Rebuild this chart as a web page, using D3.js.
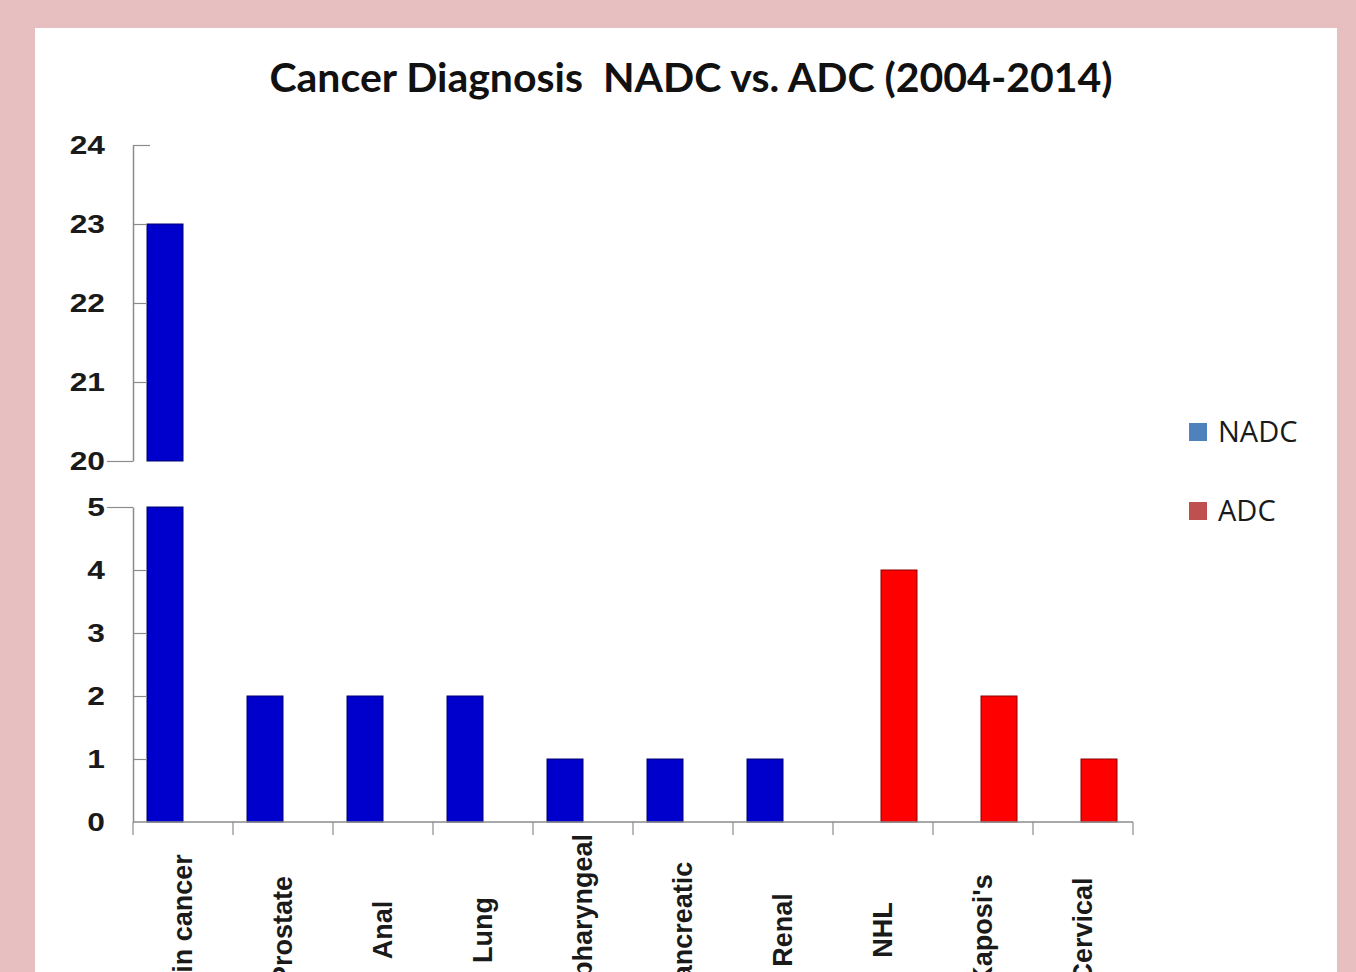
<!DOCTYPE html>
<html>
<head>
<meta charset="utf-8">
<script src="https://cdn.jsdelivr.net/npm/d3@7"></script>
<style>
  html, body { margin: 0; padding: 0; background: #e7bfc0; }
  svg { display: block; }
</style>
</head>
<body>
<svg id="chart" width="1356" height="972"></svg>
<script>
// Cancer diagnoses 2004-2014, non-AIDS-defining (NADC) vs AIDS-defining (ADC)
const categories = ["Skin cancer", "Prostate", "Anal", "Lung", "Oropharyngeal",
                    "Pancreatic", "Renal", "NHL", "Kaposi's", "Cervical"];
const nadcValues = [23, 2, 2, 2, 1, 1, 1, 0, 0, 0];
const adcValues  = [0, 0, 0, 0, 0, 0, 0, 4, 2, 1];
const seriesNames = ["NADC", "ADC"];
const upperTicks = [20, 21, 22, 23, 24];
const lowerTicks = [0, 1, 2, 3, 4, 5];

const barColors = { NADC: "#0000cc", ADC: "#ff0000" };
const barStroke = { NADC: "#00006e", ADC: "#8a0000" };
const legendColors = { NADC: "#4f81bd", ADC: "#c0504d" };

const svg = d3.select("#chart");

// white chart panel
svg.append("rect").attr("x", 35).attr("y", 28).attr("width", 1302).attr("height", 960)
  .attr("fill", "#ffffff");

svg.append("text")
  .attr("x", 691).attr("y", 92)
  .attr("text-anchor", "middle")
  .attr("font-family", "Lato, 'Open Sans', sans-serif")
  .attr("font-weight", "bold")
  .attr("font-size", 41)
  .attr("fill", "#111")
  .text("Cancer Diagnosis\u00a0\u00a0NADC vs. ADC (2004-2014)");

const left = 133, right = 1133;
const x0 = d3.scaleBand().domain(categories).range([left, right])
  .paddingInner(0.28).paddingOuter(0.14);
const x1 = d3.scaleBand().domain(seriesNames).range([-2, x0.bandwidth() - 2]);

// broken value axis: lower segment 0-5, upper segment 20-24
const yLow = d3.scaleLinear().domain([0, 5]).range([822, 507]);
const yHigh = d3.scaleLinear().domain([20, 24]).range([461, 145]);

const rows = categories.map((c, i) => ({ cat: c, NADC: nadcValues[i], ADC: adcValues[i] }));
const bars = [];
rows.forEach(r => seriesNames.forEach(s => { if (r[s] > 0) bars.push({ cat: r.cat, s, v: r[s] }); }));

const axisColor = "#8c8c8c";
const tickFont = "'Liberation Sans', Arial, sans-serif";
const tickStretch = 1.22;   // wide tick numerals
const tickPad = 28;

// lower bar segments
svg.append("g").selectAll("rect").data(bars).join("rect")
  .attr("x", d => x0(d.cat) + x1(d.s) + (d.s === "NADC" ? 2 : 0))
  .attr("width", x1.bandwidth())
  .attr("y", d => yLow(Math.min(d.v, 5)))
  .attr("height", d => yLow(0) - yLow(Math.min(d.v, 5)))
  .attr("fill", d => barColors[d.s])
  .attr("stroke", d => barStroke[d.s]).attr("stroke-width", 1);

// upper bar segments for values beyond the break
svg.append("g").selectAll("rect").data(bars.filter(d => d.v > 20)).join("rect")
  .attr("x", d => x0(d.cat) + x1(d.s) + (d.s === "NADC" ? 2 : 0))
  .attr("width", x1.bandwidth())
  .attr("y", d => yHigh(d.v))
  .attr("height", d => yHigh(20) - yHigh(d.v))
  .attr("fill", d => barColors[d.s])
  .attr("stroke", d => barStroke[d.s]).attr("stroke-width", 1);

function styleAxis(g, breakValue) {
  g.select(".domain").attr("stroke", axisColor).attr("stroke-width", 1.5);
  g.selectAll(".tick line").attr("stroke", axisColor).attr("stroke-width", 1.2);
  g.selectAll(".tick text")
    .attr("x", -tickPad / tickStretch)
    .attr("transform", `scale(${tickStretch},1)`)
    .attr("font-family", tickFont).attr("font-weight", "bold")
    .attr("font-size", 26).attr("fill", "#1a1a1a");
  g.selectAll(".tick").filter(d => d === breakValue).select("line")
    .attr("x1", -26).attr("x2", 0);
}

const gHigh = svg.append("g").attr("transform", `translate(${left},0)`)
  .call(d3.axisLeft(yHigh).tickValues(upperTicks).tickFormat(d3.format("d"))
    .tickSizeInner(-14).tickSizeOuter(0));
styleAxis(gHigh, 20);
gHigh.selectAll(".tick").filter(d => d === 24).select("line").attr("x2", 17);

const gLow = svg.append("g").attr("transform", `translate(${left},0)`)
  .call(d3.axisLeft(yLow).tickValues(lowerTicks).tickFormat(d3.format("d"))
    .tickSizeInner(-14).tickSizeOuter(0));
styleAxis(gLow, 5);
gLow.selectAll(".tick").filter(d => d === 0).select("line").remove();

// category axis with ticks on the band boundaries
const boundaries = categories.map(c => x0(c) - x0.step() * x0.paddingInner() / 2).concat([right]);
const gx = svg.append("g");
gx.append("line").attr("x1", left).attr("x2", right).attr("y1", yLow(0)).attr("y2", yLow(0))
  .attr("stroke", axisColor).attr("stroke-width", 1.5);
gx.selectAll("line.tick").data(boundaries).join("line").attr("class", "tick")
  .attr("x1", d => d).attr("x2", d => d)
  .attr("y1", yLow(0)).attr("y2", yLow(0) + 13)
  .attr("stroke", axisColor).attr("stroke-width", 1.2);
gx.selectAll("text").data(categories).join("text")
  .attr("transform", d => `translate(${x0(d) + x0.bandwidth() / 2},930) rotate(-90)`)
  .attr("text-anchor", "middle")
  .attr("dy", "0.35em")
  .attr("font-family", tickFont).attr("font-weight", "bold")
  .attr("font-size", 27).attr("fill", "#1a1a1a")
  .text(d => d);

// legend
const legend = svg.append("g").attr("transform", "translate(1189,0)");
const legendY = { NADC: 432, ADC: 511 };
seriesNames.forEach(s => {
  legend.append("rect").attr("x", 0).attr("y", legendY[s] - 9).attr("width", 18).attr("height", 18)
    .attr("fill", legendColors[s]);
  legend.append("text").attr("x", 29).attr("y", legendY[s]).attr("dy", "0.35em")
    .attr("font-family", "'Open Sans', sans-serif").attr("font-size", 29)
    .attr("fill", "#1a1a1a").text(s);
});
</script>
</body>
</html>
